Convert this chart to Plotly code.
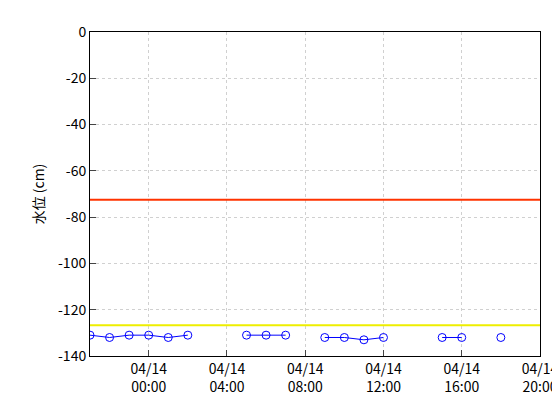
import plotly.graph_objects as go

times = ["2024-04-13 21:00","2024-04-13 22:00","2024-04-13 23:00","2024-04-14 00:00","2024-04-14 01:00","2024-04-14 02:00","2024-04-14 03:00","2024-04-14 04:00","2024-04-14 05:00","2024-04-14 06:00","2024-04-14 07:00","2024-04-14 08:00","2024-04-14 09:00","2024-04-14 10:00","2024-04-14 11:00","2024-04-14 12:00","2024-04-14 13:00","2024-04-14 14:00","2024-04-14 15:00","2024-04-14 16:00","2024-04-14 17:00","2024-04-14 18:00"]
level = [-131,-132,-131,-131,-132,-131,None,None,-131,-131,-131,None,-132,-132,-133,-132,None,None,-132,-132,None,-132]
red_level = -72.5
yellow_level = -126.7
x_range = ["2024-04-13 21:00","2024-04-14 20:00"]
tick_vals = ["2024-04-14 00:00","2024-04-14 04:00","2024-04-14 08:00","2024-04-14 12:00","2024-04-14 16:00","2024-04-14 20:00"]
tick_text = ["04/14<br>00:00","04/14<br>04:00","04/14<br>08:00","04/14<br>12:00","04/14<br>16:00","04/14<br>20:00"]
y_ticks = [0, -20, -40, -60, -80, -100, -120, -140]
y_text = ["0", "-20", "-40", "-60", "-80", "-100", "-120", "-140"]

fig = go.Figure()
fig.add_trace(go.Scatter(x=x_range, y=[red_level]*2, mode="lines", line=dict(color="#ff3300", width=2), hoverinfo="skip"))
fig.add_trace(go.Scatter(x=x_range, y=[yellow_level]*2, mode="lines", line=dict(color="#eeee00", width=2), hoverinfo="skip"))
fig.add_trace(go.Scatter(x=times, y=level, mode="lines+markers", connectgaps=False,
    line=dict(color="blue", width=1), marker=dict(symbol="circle-open", size=8, color="blue", line=dict(width=1))))
ax = dict(showline=True, linecolor="black", linewidth=1, mirror=True, ticks="inside", ticklen=6,
          showgrid=True, gridcolor="#d0d0d0", gridwidth=1, griddash="dot", zeroline=False,
          tickfont=dict(size=14, color="black"))
fig.update_layout(width=560, height=420, plot_bgcolor="white", paper_bgcolor="white", showlegend=False,
    margin=dict(l=82, r=28, t=24, b=72, autoexpand=False), font=dict(family="Noto Sans CJK JP, sans-serif"),
    xaxis=dict(ax, range=x_range, tickvals=tick_vals, ticktext=tick_text),
    yaxis=dict(ax, range=[-140, 0], tickvals=y_ticks, ticktext=y_text,
               title=dict(text="水位 (cm)", font=dict(size=14, color="black"), standoff=10)))
fig.write_html("out.html")
